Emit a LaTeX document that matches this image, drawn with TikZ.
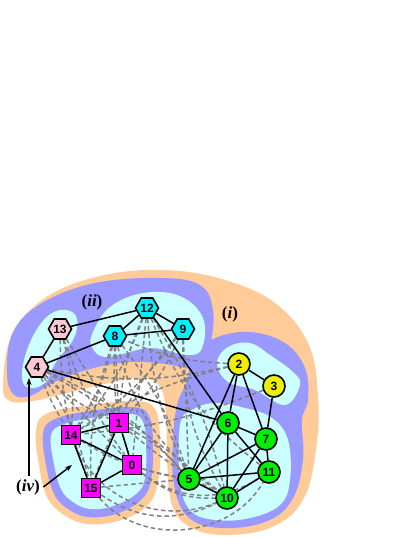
\documentclass[tikz,border=0pt]{standalone}
\usepackage{fontspec}
\setmainfont{Liberation Serif}
\setsansfont{Liberation Sans}
\usetikzlibrary{shapes.geometric,arrows.meta}

\definecolor{peach}{RGB}{255,204,153}
\definecolor{lavender}{RGB}{153,153,255}
\definecolor{icecyan}{RGB}{204,255,255}
\definecolor{hexpink}{RGB}{255,200,215}
\definecolor{hexcyan}{RGB}{0,240,255}
\definecolor{ballyellow}{RGB}{238,238,0}
\definecolor{ballgreen}{RGB}{0,238,0}
\definecolor{boxmagenta}{RGB}{255,0,255}
\definecolor{dashgray}{RGB}{128,128,128}

\pgfdeclarelayer{blobs}
\pgfdeclarelayer{links}
\pgfsetlayers{blobs,links,main}

\tikzset{%
    vert/.style={draw, line width=1.6pt, inner sep=0pt,
        font=\sffamily\bfseries\fontsize{12}{12}\selectfont},
    hexv/.style={vert, regular polygon, regular polygon sides=6, minimum size=23pt},
    roundv/.style={vert, circle, minimum size=22pt},
    boxv/.style={vert, rectangle, minimum size=19pt},
    tie/.style={line width=1.5pt},
    loose/.style={line width=1.5pt, dashgray, dash pattern=on 4.5pt off 3pt},
    tag/.style={font=\fontsize{17}{19}\selectfont\bfseries},
    blob/.style={smooth cycle, tension=0.65},
}

\begin{document}
\begin{tikzpicture}[x=1pt, y=-1pt]
    \useasboundingbox (0,0) rectangle (415,537);

    % vertices, in pixel positions
    \node[hexv, fill=hexcyan] (n12) at (147,308) {12};
    \node[hexv, fill=hexcyan] (n9)  at (183,329) {9};
    \node[hexv, fill=hexcyan] (n8)  at (115,336) {8};
    \node[hexv, fill=hexpink] (n13) at (60,329)  {13};
    \node[hexv, fill=hexpink] (n4)  at (37,367)  {4};

    \node[roundv, fill=ballyellow] (n2) at (239,364) {2};
    \node[roundv, fill=ballyellow] (n3) at (274,386) {3};
    \node[roundv, fill=ballgreen] (n6)  at (228,423) {6};
    \node[roundv, fill=ballgreen] (n7)  at (266,439) {7};
    \node[roundv, fill=ballgreen] (n11) at (269,472) {11};
    \node[roundv, fill=ballgreen] (n5)  at (189,479) {5};
    \node[roundv, fill=ballgreen] (n10) at (227,498) {10};

    \node[boxv, fill=boxmagenta] (n1)  at (119,423) {1};
    \node[boxv, fill=boxmagenta] (n14) at (71,435)  {14};
    \node[boxv, fill=boxmagenta] (n0)  at (132,465) {0};
    \node[boxv, fill=boxmagenta] (n15) at (91,488)  {15};

    % group labels
    \node[tag] (lab-ii) at (92,302) {(\textit{ii})};
    \node[tag] (lab-i)  at (230,314) {(\textit{i})};
    \node[tag] (lab-iv) at (28,487) {(\textit{iv})};
    \coordinate (ivtop) at (29,378);
    \coordinate (ivside) at (72,465);
    \draw[tie, -{Stealth[length=7pt,width=5pt]}] (ivtop |- lab-iv.north) -- (ivtop);
    \draw[tie, -{Stealth[length=7pt,width=5pt]}] (lab-iv.east) -- (ivside);

    \begin{pgfonlayer}{blobs}
        % outer regions
        \fill[peach] plot[blob] coordinates {(3,385) (12,335) (45,298) (100,276)
            (165,270) (225,280) (275,303) (308,343) (318,395) (316,450) (303,500)
            (272,527) (225,535) (190,527) (172,505) (167,460) (166,415) (160,387)
            (140,378) (100,385) (67,393) (33,401) (10,401)};
        \fill[peach] plot[blob] coordinates {(36,430) (48,413) (90,405) (135,401)
            (155,409) (160,440) (158,482) (146,507) (118,521) (88,524) (64,515)
            (47,497) (39,465)};
        % middle regions
        \fill[lavender] plot[blob] coordinates {(7,372) (13,332) (42,303) (95,283)
            (160,278) (200,285) (213,310) (210,345) (198,368) (165,364) (130,362)
            (90,369) (55,382) (30,396) (13,394)};
        \fill[lavender] plot[blob] coordinates {(185,385) (195,355) (215,338)
            (250,332) (285,343) (305,368) (308,400) (302,420) (303,460) (292,500)
            (265,522) (220,528) (188,517) (174,485) (173,440) (177,405)};
        \fill[lavender] plot[blob] coordinates {(43,433) (55,419) (90,411)
            (133,407) (149,416) (153,442) (151,480) (141,500) (116,514) (88,517)
            (68,509) (54,494) (46,465)};
        % inner regions
        \fill[icecyan] plot[blob] coordinates {(22,378) (27,350) (42,322) (60,310)
            (76,316) (74,338) (56,362) (46,382) (30,388)};
        \fill[icecyan] plot[blob] coordinates {(93,332) (110,307) (143,293)
            (180,296) (203,318) (202,348) (187,355) (150,348) (107,357) (92,347)};
        \fill[icecyan] plot[blob] coordinates {(217,363) (228,347) (250,343)
            (270,355) (293,372) (300,385) (285,405) (255,390) (228,382)};
        \fill[icecyan] plot[blob] coordinates {(180,425) (192,410) (215,403)
            (245,408) (272,418) (288,440) (290,480) (280,505) (250,518) (215,520)
            (190,510) (180,480)};
        \fill[icecyan] plot[blob] coordinates {(51,436) (62,425) (92,418)
            (130,414) (143,422) (146,444) (145,478) (136,494) (113,506) (90,509)
            (73,502) (61,489) (54,464)};
    \end{pgfonlayer}

    \begin{pgfonlayer}{links}
        % dashed links between groups
        \foreach \a/\b/\c in {4/14/5, 4/15/-10, 4/1/10, 4/0/0, 4/5/-12, 4/10/-5,
                13/14/-10, 13/1/0, 13/15/10, 13/0/8,
                8/14/-10, 8/1/0, 8/15/10, 8/0/10, 8/5/-10, 8/10/20,
                12/1/10, 12/14/-10, 12/0/0, 12/5/10, 12/10/-8, 12/11/15,
                9/1/-10, 9/15/10, 9/5/0, 9/10/15, 9/14/-10,
                2/8/-10, 2/4/-12, 2/14/8, 3/14/-8,
                15/5/0, 15/10/30, 15/11/55, 0/5/5, 0/10/20, 0/11/35,
                1/5/-10, 14/5/10, 1/10/5, 14/10/45}
            \draw[loose] (n\a) to[bend right=\c] (n\b);

        % solid links
        \foreach \a/\b in {13/12, 13/4, 4/8, 8/12, 8/9, 12/9, 12/6, 4/6,
                2/3, 2/6, 2/7, 2/5, 3/7,
                6/7, 6/5, 6/10, 6/11, 7/5, 7/10, 7/11, 5/11, 5/10, 10/11,
                14/1, 14/0, 14/15, 1/15, 1/0, 0/15}
            \draw[tie] (n\a) -- (n\b);
    \end{pgfonlayer}
\end{tikzpicture}
\end{document}
